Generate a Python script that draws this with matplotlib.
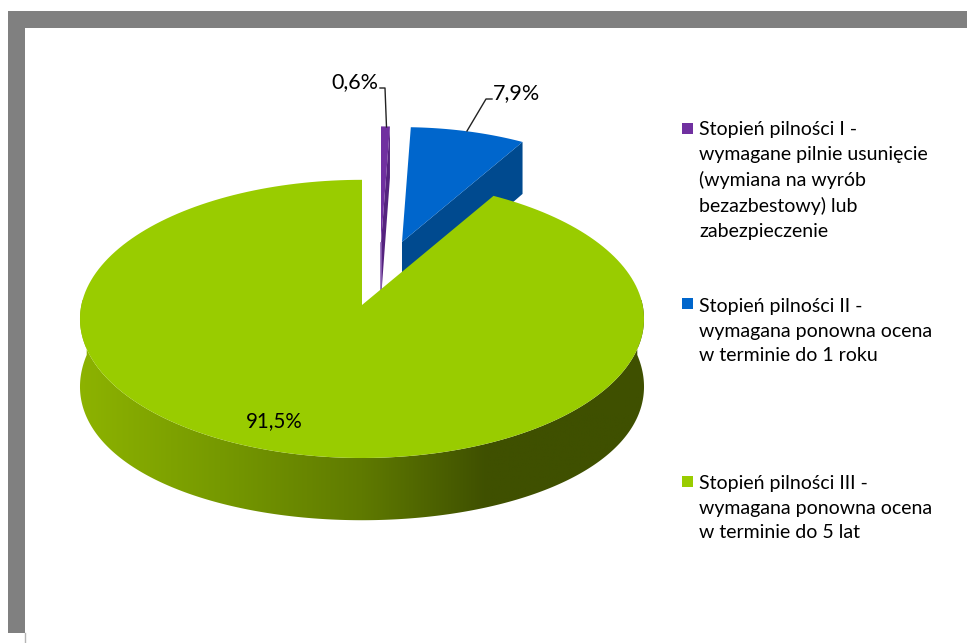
import numpy as np
import matplotlib
matplotlib.use("Agg")
import matplotlib.pyplot as plt
from matplotlib.colors import LinearSegmentedColormap
from matplotlib.patches import Polygon, Rectangle

plt.rcParams['font.family'] = ['Lato', 'DejaVu Sans']

# slices, clockwise from 12 o'clock
values = [0.6, 7.9, 91.5]
value_labels = ['0,6%', '7,9%', '91,5%']
legend_labels = [
    'Stopień pilności I -\nwymagane pilnie usunięcie\n(wymiana na wyrób\nbezazbestowy) lub\nzabezpieczenie',
    'Stopień pilności II -\nwymagana ponowna ocena\nw terminie do 1 roku',
    'Stopień pilności III -\nwymagana ponowna ocena\nw terminie do 5 lat',
]
top_colors = ['#7030A0', '#0066CC', '#99CC00']
side_colors = ['#55237F', '#004A8F', '#3F5000']

# pie "camera": everything in pixels of the picture
RX = 280.6
RY = 137.7
PERSP = 0.1
DEPTH = 56


def project(r, theta, z=0.0):
    # theta in radians, clockwise from the top
    x = r * np.sin(theta)
    y = r * np.cos(theta)
    s = 1 / (1 + PERSP * y)
    return RX * x * s, -RY * y * s + z * s


def wedge_top(ax0, ay0, r, a0, a1):
    th = np.linspace(a0, a1, 200)
    xs, ys = project(r, th)
    return np.column_stack([np.r_[ax0, ax0 + xs], np.r_[ay0, ay0 + ys]])


def cut_face(ax0, ay0, r, a):
    # radial cut at angle a, seen from the front
    xe, ye = project(r, a)
    xb, yb = project(r, a, DEPTH)
    x0, y0 = project(0, 0, DEPTH)
    return [(ax0, ay0), (ax0 + xe, ay0 + ye), (ax0 + xb, ay0 + yb), (ax0 + x0, ay0 + y0)]


fig = plt.figure(figsize=(9.67, 6.43), dpi=100)
ax = fig.add_axes([0, 0, 1, 1])

# grey picture frame
ax.add_patch(Rectangle((8, 10.5), 959, 17, fc='#808080', ec='none', zorder=1))
ax.add_patch(Rectangle((8, 10.5), 17, 622.5, fc='#808080', ec='none', zorder=1))
ax.plot([24.5, 24.5], [633, 643], color='#b5b5b5', lw=1, zorder=1)

# slice angles come from the values
edges = np.r_[0, np.cumsum(values)] / sum(values) * 2 * np.pi

# purple
px, py, pr = 381, 243, 0.925
ax.add_patch(Polygon(cut_face(px, py, pr, edges[1]), fc=side_colors[0], ec='none', zorder=2))
ax.add_patch(Polygon(wedge_top(px, py, pr, edges[0], edges[1]), fc=top_colors[0], ec='none', zorder=3))
ax.plot([381, 381], [243, 290], color='#8E63B5', lw=1.2, zorder=2)

# blue
bx, by, br = 402, 242, 0.91
ax.add_patch(Polygon(cut_face(bx, by, br, edges[2]), fc=side_colors[1], ec='none', zorder=2))
ax.add_patch(Polygon(wedge_top(bx, by, br, edges[1], edges[2]), fc=top_colors[1], ec='none', zorder=3))

# green, wall with left to right shading
gx, gy = 362, 305
th = np.linspace(np.pi / 2 - 0.12, 3 * np.pi / 2 + 0.12, 300)
x_top, y_top = project(1, th)
# the lower rim sits a little deeper at the sides, as in the picture
x_bot, y_bot = project(1, th, DEPTH * (1 + 0.2 * np.sin(th) ** 2))
wall = Polygon(np.column_stack([np.r_[gx + x_top, gx + x_bot[::-1]],
                                np.r_[gy + y_top, gy + y_bot[::-1]]]),
               fc='none', ec='none', transform=ax.transData)
ax.add_patch(wall)
shade = LinearSegmentedColormap.from_list('wall', [(0, '#8DB300'), (0.25, '#769900'),
                                                   (0.5, '#5F7A00'), (0.72, '#3F5000'),
                                                   (1, '#3F5000')])
im = ax.imshow(np.linspace(0, 1, 256)[None, :], extent=(78, 646, 530, 300),
               cmap=shade, aspect='auto', zorder=4)
im.set_clip_path(wall)
ax.add_patch(Polygon(wedge_top(gx, gy, 1, edges[2], edges[3]), fc=top_colors[2], ec='none', zorder=5))

# data labels and leader lines
ax.plot([380, 385, 386.5], [88, 88, 127], color='#222222', lw=1, zorder=6)
ax.plot([492, 486, 467], [99, 99, 131], color='#222222', lw=1, zorder=6)
label_pos = [(354.5, 82), (517, 93), (274, 421)]
label_sizes = [15.5, 15.5, 14.8]
for lab, (x, y), fs in zip(value_labels, label_pos, label_sizes):
    ax.text(x, y, lab, fontsize=fs, color='black', ha='center', va='center', zorder=7)

# legend
legend_tops = [121, 298, 475]
square_tops = [123, 298, 476]
for lab, col, y, sq in zip(legend_labels, top_colors, legend_tops, square_tops):
    ax.add_patch(Rectangle((682, sq), 11, 11, fc=col, ec='none', zorder=6))
    ax.text(699, y, lab, fontsize=14, color='black', ha='left', va='top', linespacing=1.55, zorder=7)

ax.set_xlim(0, 967)
ax.set_ylim(643, 0)
ax.axis('off')
fig.savefig('out.png', dpi=100, facecolor='white')
